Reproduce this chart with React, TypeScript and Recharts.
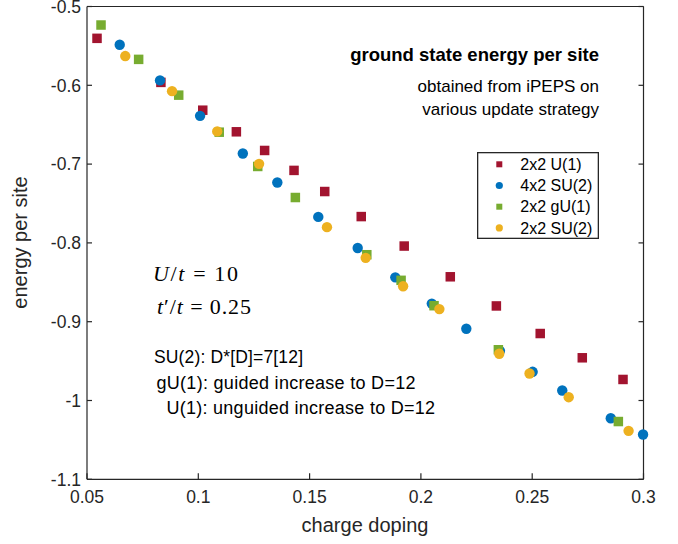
import React from 'react';
import { Legend, Scatter, ScatterChart, XAxis, YAxis } from 'recharts';

// axis ticks
const xTicks = [0.05, 0.1, 0.15, 0.2, 0.25, 0.3];
const xTickLabels = ['0.05', '0.1', '0.15', '0.2', '0.25', '0.3'];
const yTicks = [-1.1, -1, -0.9, -0.8, -0.7, -0.6, -0.5];
const yTickLabels = ['-1.1', '-1', '-0.9', '-0.8', '-0.7', '-0.6', '-0.5'];

// 2x2 U(1)
const u1Doping = [0.0545, 0.0832, 0.102, 0.1171, 0.1298, 0.143, 0.1568, 0.1732, 0.1925, 0.2132, 0.2339, 0.2536, 0.2725, 0.2908];
const u1Energy = [-0.5404, -0.5963, -0.6316, -0.659, -0.6827, -0.708, -0.7348, -0.7666, -0.804, -0.843, -0.88, -0.915, -0.9458, -0.9733];

// 4x2 SU(2)
const su2x4Doping = [0.0647, 0.0828, 0.1008, 0.12, 0.1355, 0.1539, 0.1716, 0.1885, 0.2049, 0.2204, 0.2355, 0.2502, 0.2635, 0.2853, 0.2998];
const su2x4Energy = [-0.5485, -0.5938, -0.6388, -0.6865, -0.7234, -0.767, -0.8065, -0.8437, -0.877, -0.909, -0.937, -0.9636, -0.9873, -1.0225, -1.0432];

// 2x2 gU(1)
const gu1Doping = [0.0563, 0.0732, 0.0912, 0.1094, 0.1267, 0.1436, 0.1757, 0.1911, 0.2059, 0.2348, 0.2887];
const gu1Energy = [-0.5235, -0.5671, -0.6125, -0.6595, -0.703, -0.7424, -0.815, -0.8475, -0.8797, -0.9356, -1.0267];

// 2x2 SU(2)
const su2x2Doping = [0.0672, 0.0882, 0.1085, 0.1273, 0.1578, 0.1752, 0.192, 0.2083, 0.2352, 0.2488, 0.2664, 0.2933];
const su2x2Energy = [-0.5629, -0.6074, -0.6585, -0.6997, -0.78, -0.819, -0.855, -0.884, -0.9407, -0.9657, -0.9958, -1.0385];

const AXIS = '#262626';
const FONT = '"Liberation Sans", Arial, Helvetica, sans-serif';
const SERIF = '"Liberation Serif", "Times New Roman", serif';

const toPoints = (xs: number[], ys: number[]) => xs.map((x, i) => ({ x, y: ys[i] }));

type Series = { name: string; color: string; shape: 'square' | 'circle'; data: { x: number; y: number }[] };

const SERIES: Series[] = [
  { name: '2x2 U(1)', color: '#A2142F', shape: 'square', data: toPoints(u1Doping, u1Energy) },
  { name: '4x2 SU(2)', color: '#0072BD', shape: 'circle', data: toPoints(su2x4Doping, su2x4Energy) },
  { name: '2x2 gU(1)', color: '#77AC30', shape: 'square', data: toPoints(gu1Doping, gu1Energy) },
  { name: '2x2 SU(2)', color: '#EDB120', shape: 'circle', data: toPoints(su2x2Doping, su2x2Energy) },
];

const labelFor = (v: number, ticks: number[], labels: string[]) => {
  const i = ticks.findIndex((t) => Math.abs(t - v) < 1e-9);
  return i >= 0 ? labels[i] : String(v);
};

const BottomTick = ({ x, y, payload }: any) => (
  <g>
    <line x1={x} x2={x} y1={y} y2={y - 6} stroke={AXIS} strokeWidth={1.2} />
    <text x={x} y={y + 24} textAnchor="middle" fontSize={17.5} fontFamily={FONT} fill={AXIS}>
      {labelFor(payload.value, xTicks, xTickLabels)}
    </text>
  </g>
);

const TopTick = ({ x, y }: any) => <line x1={x} x2={x} y1={y} y2={y + 6} stroke={AXIS} strokeWidth={1.2} />;

const LeftTick = ({ x, y, payload }: any) => (
  <g>
    <line x1={x} x2={x + 5} y1={y} y2={y} stroke={AXIS} strokeWidth={1.2} />
    <text x={x - 6} y={y + 6.2} textAnchor="end" fontSize={17.5} fontFamily={FONT} fill={AXIS}>
      {labelFor(payload.value, yTicks, yTickLabels)}
    </text>
  </g>
);

const RightTick = ({ x, y }: any) => <line x1={x} x2={x - 5} y1={y} y2={y} stroke={AXIS} strokeWidth={1.2} />;

const markerShape = (s: Series) => (props: any) => {
  const { cx, cy } = props;
  if (s.shape === 'square') {
    return <rect x={cx - 4.75} y={cy - 4.75} width={9.5} height={9.5} fill={s.color} />;
  }
  return <circle cx={cx} cy={cy} r={5.2} fill={s.color} />;
};

const LegendBox = () => (
  <svg width={122} height={87} style={{ display: 'block' }}>
    <rect x={0.65} y={0.65} width={120.7} height={85.7} fill="#fff" stroke={AXIS} strokeWidth={1.3} />
    {SERIES.map((s, i) => {
      const cy = 12.3 + i * 21.2;
      return (
        <g key={s.name}>
          {s.shape === 'square' ? (
            <rect x={19.3} y={cy - 3} width={6} height={6} fill={s.color} />
          ) : (
            <circle cx={22.3} cy={cy} r={3.6} fill={s.color} />
          )}
          <text x={43.3} y={cy + 5.7} fontSize={16} fontFamily={FONT} fill="#000">
            {s.name}
          </text>
        </g>
      );
    })}
  </svg>
);

const App: React.FC = () => (
  <div style={{ position: 'absolute', left: 0, top: 0, width: 678, height: 544, background: '#fff' }}>
    <ScatterChart width={678} height={544} margin={{ top: 5.5, right: 33.5, bottom: 63.7, left: 86 }}>
      <XAxis
        xAxisId="bottom"
        type="number"
        dataKey="x"
        domain={[0.05, 0.3]}
        ticks={xTicks}
        interval={0}
        height={1}
        tickSize={0}
        tickMargin={0}
        tickLine={false}
        tick={<BottomTick />}
        axisLine={{ stroke: AXIS, strokeWidth: 1.2 }}
      />
      <XAxis
        xAxisId="top"
        orientation="top"
        type="number"
        domain={[0.05, 0.3]}
        allowDataOverflow
        ticks={xTicks}
        interval={0}
        height={1}
        tickSize={0}
        tickMargin={0}
        tickLine={false}
        tick={<TopTick />}
        axisLine={{ stroke: AXIS, strokeWidth: 1.2 }}
      />
      <YAxis
        yAxisId="left"
        type="number"
        dataKey="y"
        domain={[-1.1, -0.5]}
        ticks={yTicks}
        interval={0}
        width={1}
        tickSize={0}
        tickMargin={0}
        tickLine={false}
        tick={<LeftTick />}
        axisLine={{ stroke: AXIS, strokeWidth: 1.2 }}
      />
      <YAxis
        yAxisId="right"
        orientation="right"
        type="number"
        domain={[-1.1, -0.5]}
        allowDataOverflow
        ticks={yTicks}
        interval={0}
        width={1}
        tickSize={0}
        tickMargin={0}
        tickLine={false}
        tick={<RightTick />}
        axisLine={{ stroke: AXIS, strokeWidth: 1.2 }}
      />
      <Legend
        layout="vertical"
        align="center"
        verticalAlign="middle"
        wrapperStyle={{ position: 'absolute', left: 476.7, top: 152, width: 122, height: 87 }}
        content={() => <LegendBox />}
      />
      {SERIES.map((s) => (
        <Scatter
          key={s.name}
          name={s.name}
          data={s.data}
          xAxisId="bottom"
          yAxisId="left"
          fill={s.color}
          shape={markerShape(s)}
          isAnimationActive={false}
        />
      ))}
    </ScatterChart>
    <svg
      width={678}
      height={544}
      style={{ position: 'absolute', left: 0, top: 0, pointerEvents: 'none' }}
    >
      <text x={599} y={61} textAnchor="end" fontSize={18.5} fontWeight="bold" fontFamily={FONT} fill="#000">
        ground state energy per site
      </text>
      <text x={599} y={92} textAnchor="end" fontSize={17} fontFamily={FONT} fill="#000">
        obtained from iPEPS on
      </text>
      <text x={599} y={115} textAnchor="end" fontSize={17} fontFamily={FONT} fill="#000">
        various update strategy
      </text>

      <text x={153} y={281} fontSize={22} fontFamily={SERIF} fill="#000" textLength={85} lengthAdjust="spacing">
        <tspan fontStyle="italic">U</tspan>/<tspan fontStyle="italic">t</tspan> = 10
      </text>
      <text x={157} y={314} fontSize={22} fontFamily={SERIF} fill="#000" textLength={94} lengthAdjust="spacing">
        <tspan fontStyle="italic">t</tspan>′/<tspan fontStyle="italic">t</tspan> = 0.25
      </text>

      <text x={154} y={363} fontSize={17.5} fontFamily={FONT} fill="#000" textLength={149} lengthAdjust="spacing">
        SU(2): D*[D]=7[12]
      </text>
      <text x={156.5} y={388.5} fontSize={18} fontFamily={FONT} fill="#000" textLength={259} lengthAdjust="spacing">
        gU(1): guided increase to D=12
      </text>
      <text x={166.5} y={414} fontSize={18} fontFamily={FONT} fill="#000" textLength={268.5} lengthAdjust="spacing">
        U(1): unguided increase to D=12
      </text>

      <text x={365} y={532} textAnchor="middle" fontSize={20} fontFamily={FONT} fill={AXIS}>
        charge doping
      </text>
      <text
        x={27}
        y={242.5}
        textAnchor="middle"
        fontSize={20}
        fontFamily={FONT}
        fill={AXIS}
        transform="rotate(-90, 27, 242.5)"
      >
        energy per site
      </text>
    </svg>
  </div>
);

export default App;
